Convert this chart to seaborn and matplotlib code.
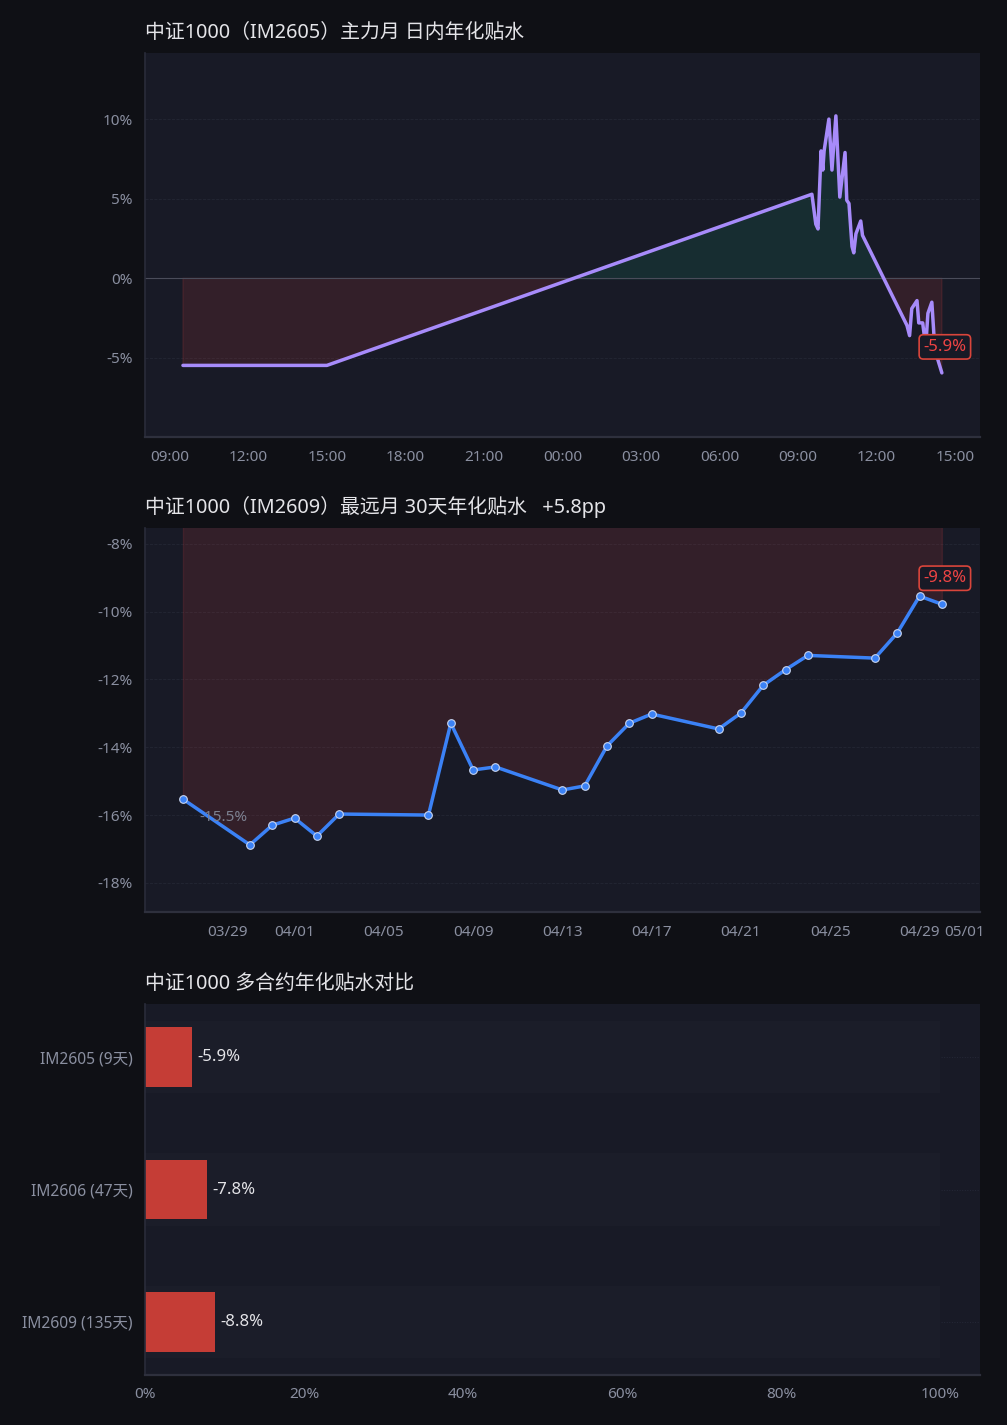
import pandas as pd
import seaborn as sns
import matplotlib.pyplot as plt
import matplotlib.dates as mdates
from matplotlib.ticker import FuncFormatter, MultipleLocator

# 日内数据 (IM2605)
intraday_time = [
    "2026-04-29 09:30", "2026-04-29 15:00",
    "2026-04-30 09:32", "2026-04-30 09:41", "2026-04-30 09:46", "2026-04-30 09:53",
    "2026-04-30 09:57", "2026-04-30 10:00", "2026-04-30 10:11", "2026-04-30 10:18",
    "2026-04-30 10:27", "2026-04-30 10:36", "2026-04-30 10:48", "2026-04-30 10:52",
    "2026-04-30 10:57", "2026-04-30 11:04", "2026-04-30 11:08", "2026-04-30 11:13",
    "2026-04-30 11:24", "2026-04-30 11:28", "2026-04-30 13:10", "2026-04-30 13:16",
    "2026-04-30 13:21", "2026-04-30 13:33", "2026-04-30 13:37", "2026-04-30 13:46",
    "2026-04-30 13:53", "2026-04-30 13:58", "2026-04-30 14:07", "2026-04-30 14:14",
    "2026-04-30 14:30",
]
intraday_basis = [
    -5.47, -5.47,
    5.28, 3.4, 3.1, 8.0,
    6.8, 8.0, 10.0, 6.8,
    10.2, 5.1, 7.9, 4.9,
    4.7, 2.0, 1.6, 2.8,
    3.6, 2.7, -2.96, -3.6,
    -1.9, -1.4, -2.8, -2.8,
    -4.3, -2.2, -1.5, -4.5,
    -5.94,
]

# 30天数据 (IM2609)
daily_date = [
    "2026-03-27", "2026-03-30", "2026-03-31", "2026-04-01", "2026-04-02", "2026-04-03",
    "2026-04-07", "2026-04-08", "2026-04-09", "2026-04-10", "2026-04-13", "2026-04-14",
    "2026-04-15", "2026-04-16", "2026-04-17", "2026-04-20", "2026-04-21", "2026-04-22",
    "2026-04-23", "2026-04-24", "2026-04-27", "2026-04-28", "2026-04-29", "2026-04-30",
]
daily_basis = [
    -15.53, -16.88, -16.30, -16.09, -16.62, -15.97,
    -16.00, -13.29, -14.67, -14.58, -15.26, -15.14,
    -13.96, -13.29, -13.02, -13.46, -12.99, -12.17,
    -11.71, -11.29, -11.37, -10.63, -9.54, -9.78,
]

# 多合约对比
contracts = ["IM2605 (9天)", "IM2606 (47天)", "IM2609 (135天)"]
contract_basis = [-5.9, -7.8, -8.8]
track_full = [100, 100, 100]

FIG_BG = "#0f1015"
AX_BG = "#181a26"
TXT = "#e4e4e8"
TICK = "#8a8fa0"
RED = "#ef4444"
GREEN = "#10b981"

sns.set_theme(style="dark")
plt.rcParams["font.family"] = ["Noto Sans", "Noto Sans CJK SC", "DejaVu Sans"]
plt.rcParams["axes.unicode_minus"] = False

fig = plt.figure(figsize=(10.07, 14.25), dpi=100, facecolor=FIG_BG)
ax1 = fig.add_axes([0.144, 0.6933, 0.829, 0.2695])
ax2 = fig.add_axes([0.144, 0.3600, 0.829, 0.2695])
ax3 = fig.add_axes([0.144, 0.0351, 0.829, 0.2603])


def style_axes(ax):
    ax.set_facecolor(AX_BG)
    for s in ["top", "right"]:
        ax.spines[s].set_visible(False)
    ax.spines["left"].set_color("#2a2c3a")
    ax.spines["bottom"].set_color("#2e303d")
    ax.spines["left"].set_linewidth(1.2)
    ax.spines["bottom"].set_linewidth(1.6)
    ax.tick_params(colors=TICK, labelsize=11, length=0, pad=9)
    ax.grid(False)
    ax.set_xlabel("")
    ax.set_ylabel("")


pct = FuncFormatter(lambda v, p: f"{v:.0f}%")
box = dict(boxstyle="round,pad=0.25", fc=AX_BG, ec="#d9453b", lw=1.2)

# 1. 日内年化贴水
t1 = pd.to_datetime(pd.Series(intraday_time))
v1 = pd.Series(intraday_basis)
style_axes(ax1)
ax1.fill_between(t1, v1, 0, where=v1 >= 0, interpolate=True, color=GREEN, alpha=0.12)
ax1.fill_between(t1, v1, 0, where=v1 <= 0, interpolate=True, color=RED, alpha=0.13)
ax1.axhline(0, color="#4a4c5a", lw=0.8, zorder=1)
sns.lineplot(x=t1, y=v1, ax=ax1, color="#a78bfa", linewidth=2.5, sort=False)
ax1.set_ylim(-9.97, 14.15)
ax1.yaxis.set_major_locator(MultipleLocator(5))
ax1.yaxis.set_major_formatter(pct)
ax1.xaxis.set_major_locator(mdates.HourLocator(byhour=range(0, 24, 3)))
ax1.xaxis.set_major_formatter(mdates.DateFormatter("%H:%M"))
ax1.yaxis.grid(True, color="#232634", linestyle="--", linewidth=0.6)
ax1.set_xlabel("")
ax1.set_ylabel("")
ax1.set_title("中证1000（IM2605）主力月 日内年化贴水", loc="left", color=TXT, fontsize=14.3, pad=11)
ax1.annotate(f"{intraday_basis[-1]:.1f}%", xy=(t1.iloc[-1], v1.iloc[-1]), xytext=(3, 26),
             textcoords="offset pixels", ha="center", va="center", color=RED, fontsize=12,
             bbox=box)

# 2. 最远月 30天
t2 = pd.to_datetime(pd.Series(daily_date))
v2 = pd.Series(daily_basis)
style_axes(ax2)
ax2.fill_between(t2, v2, 0, color=RED, alpha=0.13)
sns.lineplot(x=t2, y=v2, ax=ax2, color="#3b82f6", linewidth=2.5, marker="o",
             markersize=5.5, markeredgecolor="#c9d6f0", markeredgewidth=0.8)
ax2.set_ylim(-18.86, -7.53)
ax2.yaxis.set_major_locator(MultipleLocator(2))
ax2.yaxis.set_major_formatter(pct)
ax2.xaxis.set_major_locator(mdates.DayLocator(bymonthday=[1, 5, 9, 13, 17, 21, 25, 29]))
ax2.xaxis.set_major_formatter(mdates.DateFormatter("%m/%d"))
ax2.yaxis.grid(True, color="#232634", linestyle="--", linewidth=0.6)
ax2.set_xlabel("")
ax2.set_ylabel("")
ax2.set_title("中证1000（IM2609）最远月 30天年化贴水   +5.8pp", loc="left", color=TXT, fontsize=14.3, pad=11)
ax2.annotate(f"{daily_basis[0]:.1f}%", xy=(t2.iloc[0], v2.iloc[0]), xytext=(16, -18),
             textcoords="offset pixels", ha="left", va="center", color="#7c8090", fontsize=11)
ax2.annotate(f"{daily_basis[-1]:.1f}%", xy=(t2.iloc[-1], v2.iloc[-1]), xytext=(3, 26),
             textcoords="offset pixels", ha="center", va="center", color=RED, fontsize=12,
             bbox=box)

# 3. 多合约对比
style_axes(ax3)
abs_basis = [abs(v) for v in contract_basis]
sns.barplot(x=track_full, y=contracts, ax=ax3, orient="h", color="#1b1d29",
            saturation=1, width=0.55, linewidth=0)
sns.barplot(x=abs_basis, y=contracts, ax=ax3, orient="h", color="#c53d36",
            saturation=1, width=0.45, linewidth=0)
for i, v in enumerate(contract_basis):
    ax3.text(abs(v) + 0.7, i, f"{v:.1f}%", color=TXT, fontsize=12, va="center", ha="left")
ax3.set_xlim(0, 105)
ax3.set_ylim(2.4, -0.4)
ax3.xaxis.set_major_locator(MultipleLocator(20))
ax3.xaxis.set_major_formatter(pct)
ax3.yaxis.grid(True, color="#252837", linestyle=":", linewidth=0.7)
ax3.set_axisbelow(True)
ax3.tick_params(axis="y", labelsize=11.2)
ax3.set_xlabel("")
ax3.set_ylabel("")
ax3.set_title("中证1000 多合约年化贴水对比", loc="left", color=TXT, fontsize=14.3, pad=11)

fig.savefig("out.png", dpi=100, facecolor=FIG_BG)
